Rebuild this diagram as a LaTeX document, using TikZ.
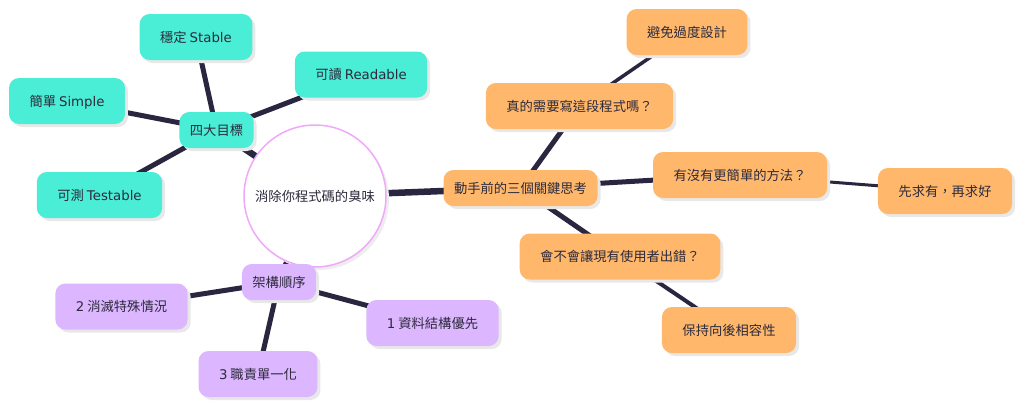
\documentclass[tikz,border=0pt]{standalone}
\usepackage{fontspec}
\setmainfont{Noto Sans CJK TC}
\newfontfamily\latinfont{DejaVu Sans}
\usetikzlibrary{shadows,backgrounds}
\definecolor{goalc}{RGB}{74,237,213}
\definecolor{stepc}{RGB}{255,184,107}
\definecolor{orderc}{RGB}{220,182,255}
\definecolor{ringc}{RGB}{240,168,250}
\definecolor{linkc}{RGB}{43,38,64}
\definecolor{textc}{RGB}{45,42,60}
\newcommand{\lat}[1]{{\latinfont #1}}

\begin{document}
\begin{tikzpicture}[x=1pt,y=-1pt,
    font=\fontsize{13.3}{16}\selectfont,
    box/.style={rounded corners=10pt, text=textc, inner ysep=0pt,
      text height=11pt, text depth=1pt,
      drop shadow={shadow xshift=3pt,shadow yshift=-3pt,fill=black!9,opacity=1}},
    hub/.style={box, inner xsep=10.5pt, minimum height=36pt},
    leaf/.style={box, inner xsep=20.5pt, minimum height=46pt},
    link/.style={draw=linkc, line width=#1}]
    \useasboundingbox (0,0) rectangle (1024,407);

    \node[circle, draw=ringc, line width=1.5pt, fill=white, minimum size=142pt, inner sep=0pt, text=textc,
      drop shadow={shadow xshift=3pt,shadow yshift=-3pt,fill=black!7,opacity=1}] (smell) at (315,196) {消除你程式碼的臭味};

    \node[hub, fill=goalc] (goals) at (216.5,130) {四大目標};
    \node[leaf, fill=goalc] (stable) at (196,37) {穩定 \lat{Stable}};
    \node[leaf, fill=goalc] (readable) at (361,74.5) {可讀 \lat{Readable}};
    \node[leaf, fill=goalc] (simple) at (67,101) {簡單 \lat{Simple}};
    \node[leaf, fill=goalc] (testable) at (99.5,195) {可測 \lat{Testable}};

    \node[hub, fill=stepc] (steps) at (520.5,188) {動手前的三個關鍵思考};
    \node[leaf, fill=stepc] (need) at (579.5,106) {真的需要寫這段程式嗎？};
    \node[leaf, fill=stepc] (avoid) at (687,32) {避免過度設計};
    \node[leaf, fill=stepc] (simpler) at (740,175) {有沒有更簡單的方法？};
    \node[leaf, fill=stepc] (first) at (945,191) {先求有，再求好};
    \node[leaf, fill=stepc] (break) at (620,256.5) {會不會讓現有使用者出錯？};
    \node[leaf, fill=stepc] (compat) at (729,330) {保持向後相容性};

    \node[hub, fill=orderc] (order) at (279,282) {架構順序};
    \node[leaf, fill=orderc] (elim) at (121.5,306.5) {\lat{2} 消滅特殊情況};
    \node[leaf, fill=orderc] (data) at (432.5,323) {\lat{1} 資料結構優先};
    \node[leaf, fill=orderc] (single) at (258,374) {\lat{3} 職責單一化};

    \begin{scope}[on background layer]
        \draw[link=6.5pt] (smell.center) -- (goals.center);
        \draw[link=6.5pt] (smell.center) -- (steps.center);
        \draw[link=6.5pt] (smell.center) -- (order.center);
        \foreach \leafname in {stable,readable,simple,testable}
            \draw[link=5pt] (goals.center) -- (\leafname.center);
        \foreach \leafname in {elim,data,single}
            \draw[link=5pt] (order.center) -- (\leafname.center);
        \foreach \leafname in {need,simpler,break}
            \draw[link=5pt] (steps.center) -- (\leafname.center);
        \draw[link=3.5pt] (need.center) -- (avoid.center);
        \draw[link=3pt] (simpler.center) -- (first.center);
        \draw[link=4pt] (break.center) -- (compat.center);
    \end{scope}
\end{tikzpicture}
\end{document}
